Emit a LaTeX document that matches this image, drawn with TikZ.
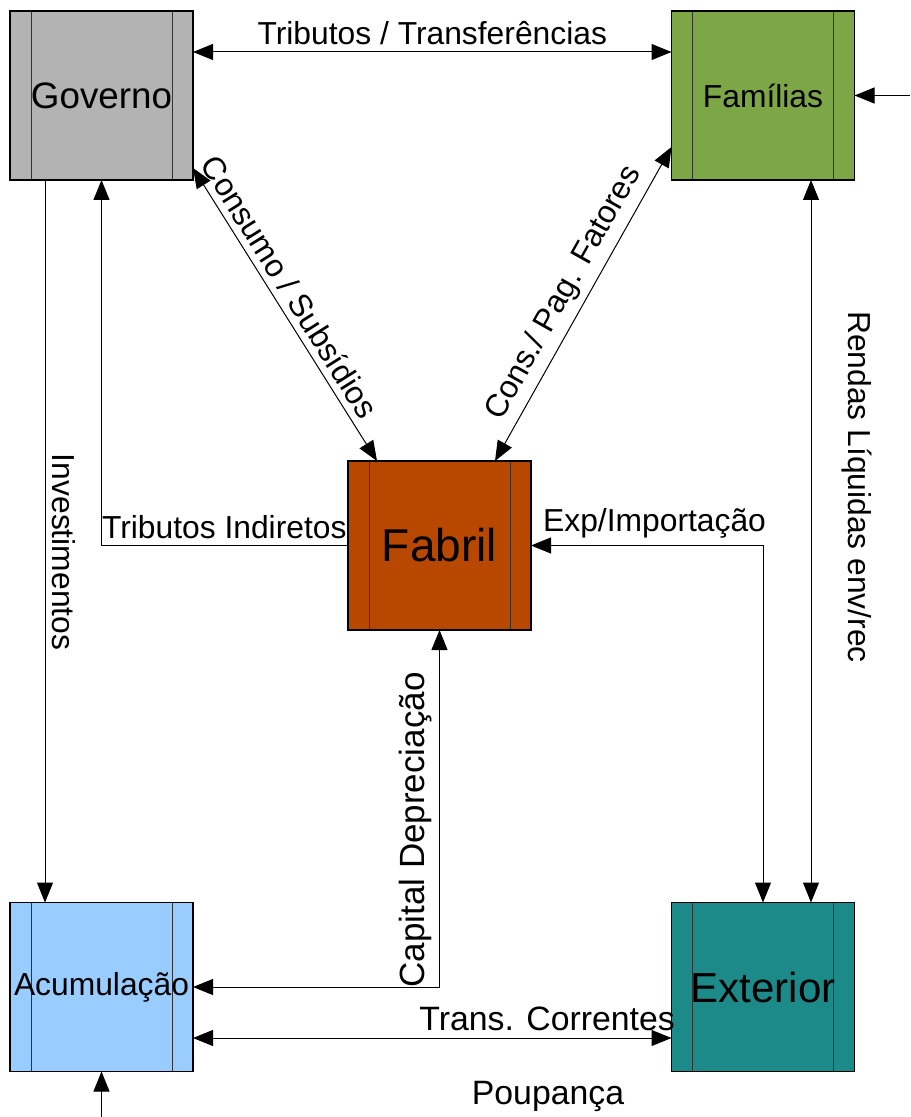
\documentclass[tikz,border=0pt]{standalone}
\usepackage{fontspec}
\setmainfont{Liberation Sans}
\usepackage{tikz}
\usetikzlibrary{positioning,calc,arrows.meta}
\usepackage{xcolor}

\definecolor{govgray}{HTML}{B3B3B3}
\definecolor{famgreen}{HTML}{7DA647}
\definecolor{fabbrown}{HTML}{B84700}
\definecolor{acublue}{HTML}{99CCFF}
\definecolor{extteal}{HTML}{1B8A88}

\begin{document}
\begin{tikzpicture}[x=0.5pt, y=-0.5pt, >={Triangle[length=10pt,width=8pt]}]
    \tikzstyle{block} = [rectangle, draw, line width=0.6pt,
               minimum width=91.5pt, minimum height=84.5pt,
               inner sep=0pt, outer sep=0pt, align=center,
               path picture={
                 \draw[black!80, line width=0.5pt]
                 ([xshift=10.5pt]path picture bounding box.north west) --
                 ([xshift=10.5pt]path picture bounding box.south west)
                 ([xshift=-10.5pt]path picture bounding box.north east) --
                 ([xshift=-10.5pt]path picture bounding box.south east);}]
    \tikzstyle{flow} = [draw, line width=0.5pt]
    \tikzstyle{flowlabel} = [font=\fontsize{15.9}{19}\selectfont]

    \useasboundingbox (0,0) rectangle (910,1117);

    % Define sectors
    \node [block, fill=govgray, font=\fontsize{18.4}{22}\selectfont] (gov) at (101.5,95.5) {Governo};
    \node [block, fill=famgreen, font=\fontsize{15.9}{19}\selectfont] (fam) at (763,95.5) {Famílias};
    \node [block, fill=fabbrown, font=\fontsize{23}{27}\selectfont] (fab) at (439.5,545.5) {Fabril};
    \node [block, fill=acublue, font=\fontsize{15.9}{19}\selectfont] (acu) at (101.5,987) {Acumulação};
    \node [block, fill=extteal, font=\fontsize{21}{25}\selectfont] (ext) at (763,987) {Exterior};

    % Free ends
    \coordinate (famin) at (910,95.5);
    \coordinate (poupin) at (101.5,1117);

    % Flows
    \draw [flow,<->] ($(gov.north east)+(0,41)$) -- ($(fam.north west)+(0,41)$)
    node[flowlabel, midway, above] {Tributos / Transferências};

    \draw [flow,->] (famin) -- (fam.east);

    \draw [flow,<->] ($(gov.south east)+(0,-12)$) -- ($(fab.north west)+(29,0)$)
    node[flowlabel, pos=0.44, sloped, above] {Consumo / Subsídios};

    \draw [flow,<->] ($(fam.south west)+(0,-33)$) -- ($(fab.north east)+(-36,0)$)
    node[flowlabel, pos=0.5, sloped, above] {Cons./ Pag. Fatores};

    \draw [flow,<->] ($(fam.south)+(48,0)$) -- ($(ext.north)+(48,0)$)
    node[flowlabel, pos=0.425, sloped, above=12pt] {Rendas Líquidas env/rec};

    \draw [flow,->] ($(gov.south)+(-56.5,0)$) -- ($(acu.north)+(-56.5,0)$)
    node[flowlabel, pos=0.515, sloped, above] {Investimentos};

    \draw [flow,->] (fab.west) -| (gov.south)
    node[flowlabel, at start, anchor=south east, inner xsep=0.5pt] {Tributos Indiretos};

    \draw [flow,<->] (fab.east) -| (ext.north)
    node[flowlabel, at start, anchor=south west, xshift=2.5pt] {Exp/Importação};

    \draw [flow,<->] (fab.south) |- (acu.east)
    node[flowlabel, font=\fontsize{17.5}{21}\selectfont, pos=0.28, rotate=90, anchor=south] {Capital Depreciação};

    \draw [flow,<->] ($(acu.east)+(0,51)$) -- ($(ext.west)+(0,51)$)
    node[flowlabel, font=\fontsize{16.9}{20}\selectfont, pos=0.74, above] {Trans. Correntes};

    \draw [flow,->] (poupin) -- (acu.south);
    \node [flowlabel, font=\fontsize{16.9}{20}\selectfont] (poup) at (548,1096) {Poupança};

\end{tikzpicture}
\end{document}
